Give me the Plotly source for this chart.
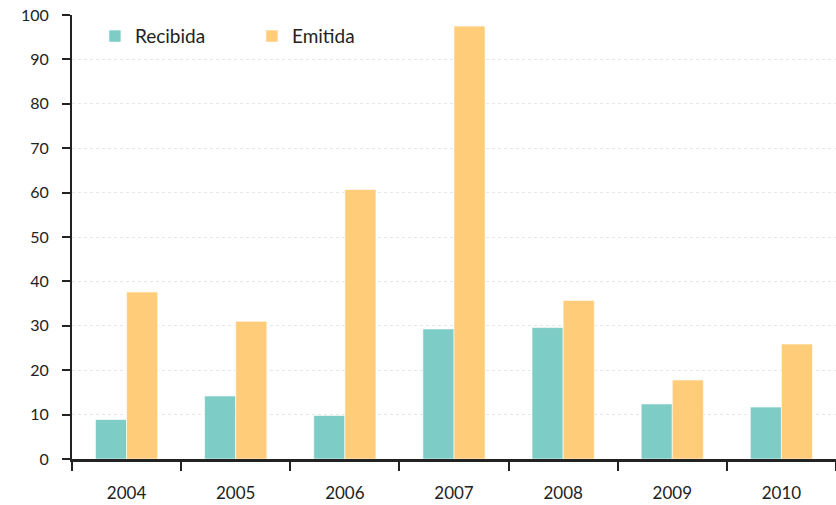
import plotly.graph_objects as go

# Colours
COLOR_TEAL = "#7ECCC6"
COLOR_GOLD = "#FFCC7A"
COLOR_AXIS = "#222222"
COLOR_GRID = "#E6E6E6"

years = ["2004", "2005", "2006", "2007", "2008", "2009", "2010"]
recibida = [8.9, 14.2, 9.8, 29.3, 29.6, 12.4, 11.7]
emitida = [37.6, 31.0, 60.7, 97.5, 35.7, 17.8, 25.9]
y_ticks = [0, 10, 20, 30, 40, 50, 60, 70, 80, 90, 100]

fig = go.Figure()

fig.add_trace(
    go.Bar(
        x=years,
        y=recibida,
        name="Recibida",
        marker=dict(color=COLOR_TEAL, line=dict(color="white", width=0.6)),
    )
)
fig.add_trace(
    go.Bar(
        x=years,
        y=emitida,
        name="Emitida",
        marker=dict(color=COLOR_GOLD, line=dict(color="white", width=0.6)),
    )
)

fig.update_layout(
    width=836,
    height=505,
    paper_bgcolor="white",
    plot_bgcolor="white",
    barmode="group",
    bargap=0.43,
    bargroupgap=0,
    font=dict(family="Lato, sans-serif", color=COLOR_AXIS, size=16),
    margin=dict(l=72, r=0, t=15, b=46),
    showlegend=True,
    legend=dict(
        orientation="h",
        x=0.03,
        xanchor="left",
        y=0.995,
        yanchor="top",
        font=dict(size=19, color=COLOR_AXIS),
        entrywidth=112,
        bgcolor="rgba(0,0,0,0)",
    ),
    xaxis=dict(
        type="category",
        automargin=False,
        tickson="boundaries",
        ticks="outside",
        ticklen=9,
        tickwidth=2,
        tickcolor=COLOR_AXIS,
        showline=True,
        linecolor=COLOR_AXIS,
        linewidth=2.5,
        showgrid=False,
        tickfont=dict(size=17, color=COLOR_AXIS),
        ticklabelstandoff=17,
    ),
    yaxis=dict(
        automargin=False,
        range=[0, 100],
        tickvals=y_ticks,
        ticks="outside",
        ticklen=8,
        tickwidth=2,
        tickcolor=COLOR_AXIS,
        showline=True,
        linecolor=COLOR_AXIS,
        linewidth=2,
        showgrid=True,
        gridcolor=COLOR_GRID,
        griddash="dot",
        gridwidth=1,
        zeroline=False,
        tickfont=dict(size=16, color=COLOR_AXIS),
        ticklabelstandoff=10,
    ),
)

# the page's default body margin would push the chart 8px down and right
fig.write_html(
    "out.html",
    config={"displayModeBar": False},
    post_script="document.body.style.margin = '0';",
)
